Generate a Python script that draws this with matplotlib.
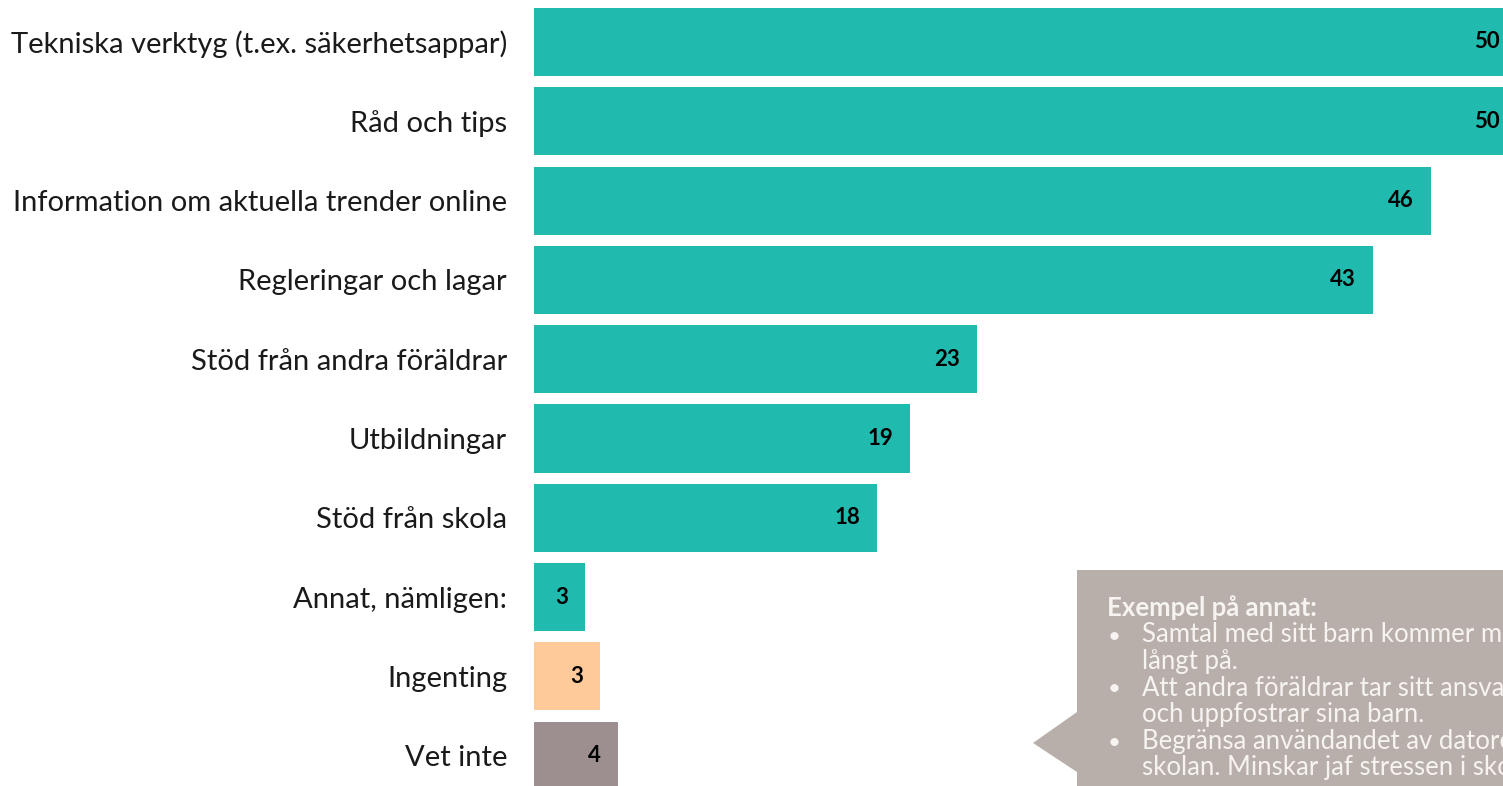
import matplotlib
matplotlib.use('Agg')
import matplotlib.pyplot as plt
from matplotlib.patches import Polygon

## --- Data
categories = [
    'Tekniska verktyg (t.ex. säkerhetsappar)',
    'Råd och tips',
    'Information om aktuella trender online',
    'Regleringar och lagar',
    'Stöd från andra föräldrar',
    'Utbildningar',
    'Stöd från skola',
    'Annat, nämligen:',
    'Ingenting',
    'Vet inte',
]
values = [50.4, 50.4, 46.0, 43.0, 22.7, 19.3, 17.6, 2.6, 3.4, 4.3]
value_labels = ['50', '50', '46', '43', '23', '19', '18', '3', '3', '4']
bar_colors = ['#21BAAF'] * 8 + ['#FFCA99', '#9D8F8F']

box_title = 'Exempel på annat:'
box_items = [
    ['Samtal med sitt barn kommer man', 'långt på.'],
    ['Att andra föräldrar tar sitt ansvar', 'och uppfostrar sina barn.'],
    ['Begränsa användandet av datorer i', 'skolan. Minskar jaf stressen i skolan.'],
]

## --- Plot
W, H = 1503, 786
fig = plt.figure(figsize=(W / 100, H / 100), dpi=100)
ax = fig.add_axes([534 / W, 0, 1 - 534 / W, 1])

px_per_unit = 19.5
pitch = 79.3
ypos = list(range(len(categories)))
ax.barh(ypos, values, height=0.86, color=bar_colors, edgecolor='none')
ax.set_xlim(0, (W - 534) / px_per_unit)
ax.set_ylim((H - 42) / pitch, -42 / pitch)

for y, v, lab in zip(ypos, values, value_labels):
    ax.annotate(lab, (v, y), xytext=(-12.2, 0), textcoords='offset points',
                ha='right', va='center', fontsize=16, fontweight='bold',
                family='Lato', color='black', annotation_clip=False)

ax.set_yticks(ypos)
ax.set_yticklabels(categories, fontsize=21, family='Lato', color='#1a1a1a')
ax.tick_params(axis='y', length=0, pad=19.4)
ax.set_xticks([])
for s in ax.spines.values():
    s.set_visible(False)

# Callout box (cut off by the figure edge)
def fx(x):
    return x / W

def fy(y):
    return 1 - y / H

box_pts = [(1077, 570), (1600, 570), (1600, 900), (1077, 900),
           (1077, 772), (1033, 743), (1077, 712)]
fig.add_artist(Polygon([(fx(x), fy(y)) for x, y in box_pts], closed=True,
                       transform=fig.transFigure, facecolor='#B8AFAA',
                       edgecolor='none', zorder=3))

txt_color = '#F6F3F1'
line_pitch = 26.5
fig.text(fx(1107), fy(616), box_title, fontsize=18.5, fontweight='bold',
         family='Lato', color=txt_color, va='baseline', zorder=4)
y = 616
for item in box_items:
    y += line_pitch
    fig.text(fx(1108), fy(y), '•', fontsize=16, family='Lato',
             color=txt_color, va='baseline', zorder=4)
    for i, line in enumerate(item):
        if i > 0:
            y += line_pitch
        fig.text(fx(1142), fy(y), line, fontsize=18.5, family='Lato',
                 color=txt_color, va='baseline', zorder=4)

fig.savefig('out.png', dpi=100)
